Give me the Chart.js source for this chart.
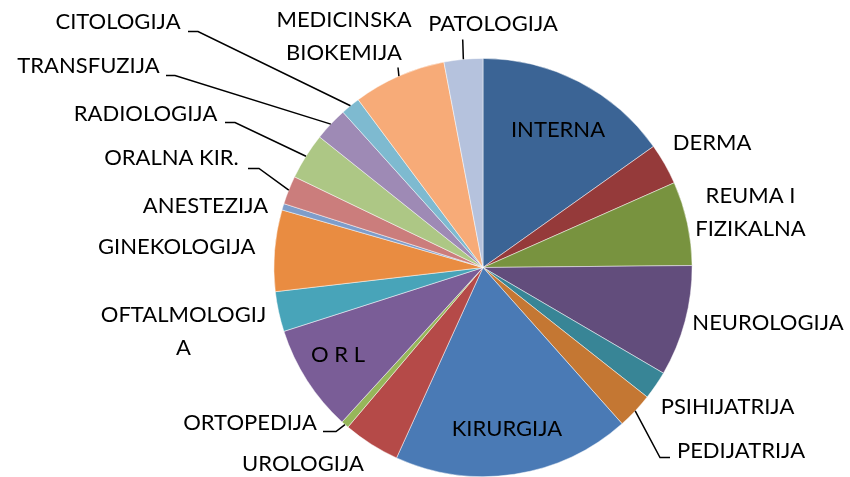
<!DOCTYPE html>
<html>
<head>
<meta charset="utf-8">
<script src="https://cdn.jsdelivr.net/npm/chart.js@4"></script>
<style>
  html, body { margin: 0; padding: 0; background: #ffffff; }
  #wrap { width: 850px; height: 477px; position: relative; }
</style>
</head>
<body>
<div id="wrap"><canvas id="c" width="850" height="477"></canvas></div>
<script>
// ---- data ----
const categories = [
  'INTERNA', 'DERMA', 'REUMA I\nFIZIKALNA', 'NEUROLOGIJA', 'PSIHIJATRIJA',
  'PEDIJATRIJA', 'KIRURGIJA', 'UROLOGIJA', 'ORTOPEDIJA', 'O R L',
  'OFTALMOLOGIJ\nA', 'GINEKOLOGIJA', 'ANESTEZIJA', 'ORALNA KIR.', 'RADIOLOGIJA',
  'TRANSFUZIJA', 'CITOLOGIJA', 'MEDICINSKA\nBIOKEMIJA', 'PATOLOGIJA'
];
const shares = [
  15.2, 3.2, 6.5, 8.6, 2.2,
  2.8, 18.4, 4.4, 0.6, 8.3,
  3.1, 6.3, 0.5, 2.2, 3.6,
  2.6, 1.5, 7.2, 3.0
];

// ---- styles / layout ----
const sliceColors = [
  '#3B6495', '#953A3A', '#78933F', '#624D7C', '#388596',
  '#C47733', '#4A7AB5', '#B54A48', '#96B65A', '#7A5D97',
  '#48A4B9', '#E98C41', '#7E9DCA', '#CB7D7C', '#ADC785',
  '#9E8AB5', '#7EBAD0', '#F7AB78', '#B5C2DD'
];
// label block centres relative to pie centre; optional leader start/knee (relative)
const labelLayout = [
  { at: [75, -138] },
  { at: [229, -125.5] },
  { at: [267.5, -55.5] },
  { at: [285, 55] },
  { at: [244.5, 138.7] },
  { at: [258, 183], leader: [[187, 190], [177, 190]] },
  { at: [24, 161] },
  { at: [-180, 196] },
  { at: [-233, 154.5], leader: [[-160, 164], [-147, 164]] },
  { at: [-145, 87] },
  { at: [-299.5, 63.5] },
  { at: [-306.3, -21.3] },
  { at: [-277.5, -62.2] },
  { at: [-311.5, -110.5], leader: [[-235, -99], [-224, -99]] },
  { at: [-337.5, -154], leader: [[-258, -145], [-248, -145]] },
  { at: [-394.5, -202], leader: [[-317, -192], [-308, -192]] },
  { at: [-365, -246.3], leader: [[-295, -236], [-285, -236]] },
  { at: [-139, -231.7], leader: [[-85, -200]] },
  { at: [10, -244], leader: [[-20.3, -228]] }
];
const FONT_SIZE = 22;
const FONT_FAMILY = 'Lato, "Liberation Sans", sans-serif';
const LINE_H = 33;

const labelPlugin = {
  id: 'pieLabels',
  afterDatasetsDraw(chart) {
    const ctx = chart.ctx;
    const meta = chart.getDatasetMeta(0);
    ctx.save();
    meta.data.forEach((arc, i) => {
      const p = arc.getProps(['x', 'y', 'startAngle', 'endAngle', 'outerRadius'], true);
      const cx = p.x, cy = p.y;
      const lay = labelLayout[i];
      // leader line
      if (lay.leader) {
        const mid = (p.startAngle + p.endAngle) / 2;
        const ex = cx + Math.cos(mid) * p.outerRadius;
        const ey = cy + Math.sin(mid) * p.outerRadius;
        ctx.beginPath();
        ctx.strokeStyle = '#000';
        ctx.lineWidth = 1.5;
        lay.leader.forEach((pt, k) => {
          if (k === 0) ctx.moveTo(cx + pt[0], cy + pt[1]);
          else ctx.lineTo(cx + pt[0], cy + pt[1]);
        });
        ctx.lineTo(ex, ey);
        ctx.stroke();
      }
      const lines = categories[i].split('\n');
      ctx.fillStyle = '#000';
      ctx.font = FONT_SIZE + 'px ' + FONT_FAMILY;
      ctx.textAlign = 'center';
      ctx.textBaseline = 'alphabetic';
      const n = lines.length;
      lines.forEach((t, k) => {
        const yc = cy + lay.at[1] + (k - (n - 1) / 2) * LINE_H;
        ctx.fillText(t, cx + lay.at[0], yc + 0.358 * FONT_SIZE);
      });
    });
    ctx.restore();
  }
};

new Chart(document.getElementById('c'), {
  type: 'pie',
  data: {
    labels: categories,
    datasets: [{
      data: shares,
      backgroundColor: sliceColors,
      borderColor: 'rgba(255,255,255,0.6)',
      borderWidth: 0.8,
      hoverOffset: 0
    }]
  },
  options: {
    responsive: false,
    animation: false,
    layout: { padding: { left: 273, right: 157, top: 58, bottom: 0 } },
    plugins: {
      legend: { display: false },
      tooltip: { enabled: false },
      title: { display: false }
    }
  },
  plugins: [labelPlugin]
});
</script>
</body>
</html>
